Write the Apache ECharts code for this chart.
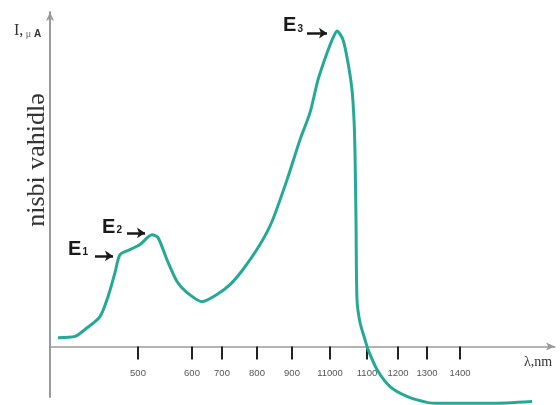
<!DOCTYPE html>
<html>
<head>
<meta charset="utf-8">
<script src="https://cdn.jsdelivr.net/npm/echarts@6/dist/echarts.min.js"></script>
<style>
  html, body { margin: 0; padding: 0; background: #fff; }
  #chart { width: 560px; height: 405px; }
</style>
</head>
<body>
<div id="chart"></div>
<script>
// Position of each tick along the (schematic) wavelength axis, and its printed label
const tickPos = [17.6, 28.4, 34.4, 41.4, 48.4, 56, 63.4, 69.6, 75.4, 82];
const tickLabels = ['500', '600', '700', '800', '900', '11000', '1100', '1200', '1300', '1400'];

// Spectrum curve: axis position and relative intensity
const curveX = [1.6, 5, 7, 10, 11.6, 13, 14, 16, 18, 20.4, 21.6, 23.4, 25.4, 27.4, 30.4, 33.4, 36,
  38.6, 42, 44.4, 47.4, 50, 52, 53.6, 55.4, 56.6, 57.4, 58.6, 59.6, 60.4, 60.8, 61, 61.2, 61.4,
  62, 63, 63.6, 65.4, 68, 71.4, 75.4, 78, 88, 96.4];
const curveY = [2.8, 3.2, 5.4, 9.5, 15.8, 23.4, 29.1, 30.7, 32.3, 35.4, 34.5, 27.5, 20.6, 17.1, 14.2,
  16.5, 19.6, 24.4, 32.3, 39.6, 52.8, 65.5, 74.1, 84.5, 93, 97.8, 100, 97.2, 89.9, 81.3, 71.8,
  61.4, 40.2, 14.9, 7.6, 2.2, -0.9, -7.3, -12.7, -15.8, -17.7, -18, -18, -17.4];

// Peak markers E1, E2, E3: label anchor and arrow start/end
const peakNames = ['1', '2', '3'];
const peakLabelAt = [[7.6, 30.7], [14.4, 37.7], [50.6, 101.6]];
const peakArrowFrom = [[9, 28.7], [15.4, 36], [51.4, 99.3]];
const peakArrowTo = [[12.6, 28.7], [19, 36], [55.4, 99.3]];

const chart = echarts.init(document.getElementById('chart'), null, { renderer: 'canvas' });

const curve = curveX.map((x, i) => [x, curveY[i]]);

chart.setOption({
  animation: false,
  backgroundColor: '#ffffff',
  grid: { left: 50, right: 5, top: 12, bottom: 8, containLabel: false, outerBoundsMode: 'none' },
  xAxis: {
    type: 'value',
    min: 0,
    max: 101,
    splitLine: { show: false },
    axisLine: {
      show: true,
      onZero: true,
      symbol: ['none', 'arrow'],
      symbolSize: [6, 9],
      lineStyle: { color: '#9a9a9a', width: 1.5 }
    },
    axisTick: {
      show: true,
      customValues: tickPos,
      length: 13,
      lineStyle: { color: '#222', width: 2 }
    },
    axisLabel: {
      show: true,
      customValues: tickPos,
      formatter: v => {
        const i = tickPos.indexOf(v);
        return i >= 0 ? tickLabels[i] : '';
      },
      // labels sit just under the ticks of the zero line
      margin: -29,
      color: '#555',
      fontSize: 9.5,
      fontFamily: 'Liberation Sans, Arial, sans-serif'
    },
    name: 'λ,nm',
    nameLocation: 'end',
    nameGap: -31,
    nameTextStyle: {
      color: '#333',
      fontSize: 14,
      fontFamily: 'Liberation Serif, Times New Roman, serif',
      verticalAlign: 'top',
      padding: [9, 0, 0, 0]
    }
  },
  yAxis: {
    type: 'value',
    min: -16,
    max: 106,
    splitLine: { show: false },
    axisLine: {
      show: true,
      onZero: false,
      symbol: ['none', 'arrow'],
      symbolSize: [6, 9],
      lineStyle: { color: '#9a9a9a', width: 2 }
    },
    axisTick: { show: false },
    axisLabel: { show: false }
  },
  graphic: [
    {
      type: 'text',
      left: 14,
      top: 23,
      style: {
        text: '{i|I,}{m| μ}{a| A}',
        rich: {
          i: { fontFamily: 'Liberation Serif, serif', fontSize: 16, fill: '#333', verticalAlign: 'bottom' },
          m: { fontFamily: 'Liberation Serif, serif', fontSize: 10, fill: '#666', verticalAlign: 'bottom' },
          a: { fontFamily: 'Liberation Sans, Arial, sans-serif', fontWeight: 'bold', fontSize: 10, fill: '#333', verticalAlign: 'bottom' }
        }
      }
    },
    {
      type: 'text',
      x: 37,
      y: 160,
      rotation: Math.PI / 2,
      style: {
        text: 'nisbi vahidlə',
        fontFamily: 'Liberation Serif, Times New Roman, serif',
        fontSize: 26,
        fill: '#333',
        align: 'center',
        verticalAlign: 'middle'
      }
    }
  ],
  series: [
    {
      type: 'line',
      data: curve,
      showSymbol: false,
      smooth: 0.25,
      clip: false,
      lineStyle: { color: '#25a996', width: 3 },
      silent: true,
      markPoint: {
        symbol: 'circle',
        symbolSize: 0,
        silent: true,
        data: peakLabelAt.map((c, i) => ({
          coord: c,
          label: {
            show: true,
            position: 'left',
            distance: 0,
            formatter: '{e|E}{s|' + peakNames[i] + '}',
            rich: {
              e: { fontFamily: 'Liberation Sans, Arial, sans-serif', fontWeight: 'bold', fontSize: 20, color: '#1a1a1a', lineHeight: 20, verticalAlign: 'bottom' },
              s: { fontFamily: 'Liberation Sans, Arial, sans-serif', fontWeight: 'bold', fontSize: 10, color: '#1a1a1a', lineHeight: 10, verticalAlign: 'bottom', padding: [0, 0, 2, 1] }
            }
          }
        }))
      },
      markLine: {
        silent: true,
        symbol: ['none', 'arrow'],
        symbolSize: 8,
        label: { show: false },
        lineStyle: { color: '#1a1a1a', width: 2.5, type: 'solid' },
        data: peakArrowFrom.map((a, i) => [{ coord: a }, { coord: peakArrowTo[i] }])
      }
    }
  ]
});
</script>
</body>
</html>
